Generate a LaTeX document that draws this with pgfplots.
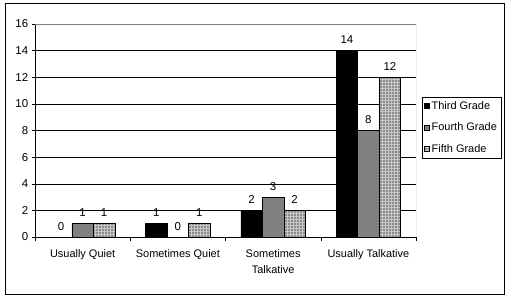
\documentclass[border=0pt]{standalone}
\usepackage{fontspec}
\setmainfont{Liberation Sans}
\usepackage{pgfplots}
\pgfplotsset{compat=1.18}
\usetikzlibrary{patterns}
\begin{document}
\fontsize{11}{13}\selectfont
\begin{tikzpicture}
\begin{axis}[
  at={(0,0)}, anchor=south west,
  scale only axis, width=381bp, height=213bp,
  xmin=-0.5, xmax=3.5, ymin=0, ymax=16,
  ytick={0,2,...,16},
  xtick={0,1,2,3},
  xticklabels={Usually Quiet,Sometimes Quiet,Sometimes\\Talkative,Usually Talkative},
  x tick label style={align=center, font=\fontsize{11}{16}\selectfont, yshift=-6bp},
  y tick label style={font=\fontsize{11.5}{13}\selectfont},
  minor xtick={-0.5,0.5,1.5,2.5,3.5},
  major x tick style={draw=none},
  minor tick length=4bp,
  major tick length=3bp,
  tick align=outside,
  tick style={black, thin},
  ymajorgrids, grid style={black, thin},
  axis x line*=bottom, axis y line*=left,
  axis line style={black, thin, -},
  /pgf/number format/assume math mode=true,
  ybar=0pt, bar width=21.5bp,
  nodes near coords,
  every node near coord/.append style={font=\fontsize{11.5}{13}\selectfont, yshift=3bp},
  legend style={at={(1.016,0.657)}, anchor=north west, draw=black, thin,
    font=\fontsize{11}{13}\selectfont, row sep=8bp, inner xsep=2bp, inner ysep=2bp,
    cells={anchor=west}},
  legend image code/.code={\draw[#1] (1bp,-2.5bp) rectangle (6bp,2.5bp);},
]
\addplot[draw=black, fill=black] coordinates {(0,0) (1,1) (2,2) (3,14)};
\addplot[draw=black, fill=black!50] coordinates {(0,1) (1,0) (2,3) (3,8)};
\addplot[draw=black, fill=black!45, postaction={pattern=grid, pattern color=black!22}] coordinates {(0,1) (1,1) (2,2) (3,12)};
\legend{Third Grade,Fourth Grade,Fifth Grade}
\draw[black!50, thin] (rel axis cs:0,1) -- (rel axis cs:1,1) -- (rel axis cs:1,0);
\end{axis}
\path (-35bp,-60bp) rectangle (473bp,237bp);
\draw[black, thin] (-30bp,-57bp) rectangle (469bp,234bp);
\end{tikzpicture}
\end{document}
